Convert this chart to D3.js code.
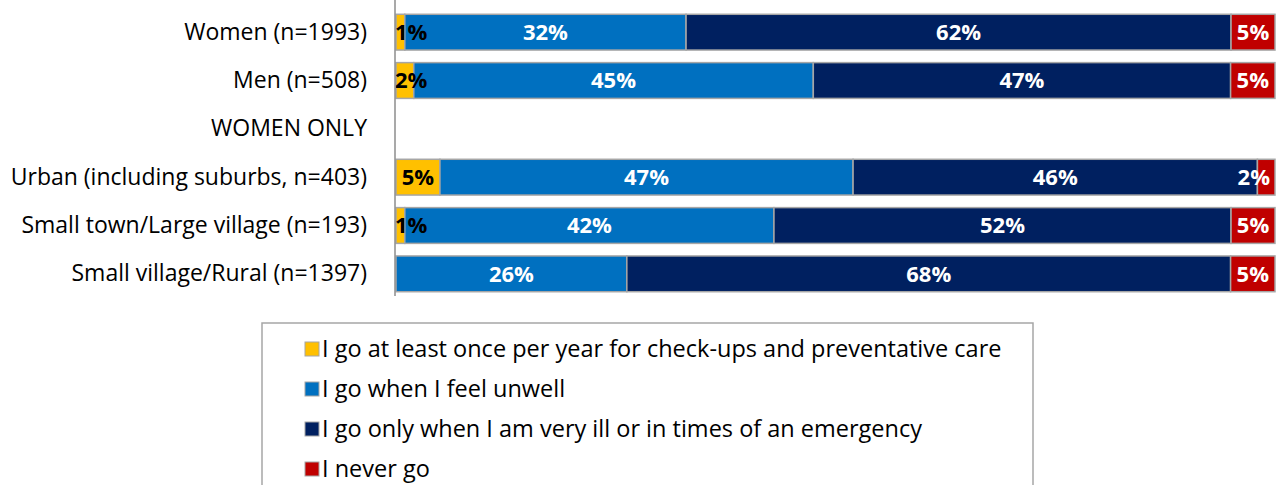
<!DOCTYPE html>
<html>
<head>
<meta charset="utf-8">
<script src="https://cdn.jsdelivr.net/npm/d3@7"></script>
<style>
  body { margin: 0; background: #fff; }
  svg { display: block; }
</style>
</head>
<body>
<script>
const categories = [
  'Women (n=1993)',
  'Men (n=508)',
  'WOMEN ONLY',
  'Urban (including suburbs, n=403)',
  'Small town/Large village (n=193)',
  'Small village/Rural (n=1397)',
]
const yearly = [1, 2, 0, 5, 1, 0]
const unwell = [32, 45, 0, 47, 42, 26]
const emergency = [62, 47, 0, 46, 52, 68]
const never = [5, 5, 0, 2, 5, 5]

const seriesNames = [
  'I go at least once per year for check-ups and preventative care',
  'I go when I feel unwell',
  'I go only when I am very ill or in times of an emergency',
  'I never go',
]
const seriesKeys = ['yearly', 'unwell', 'emergency', 'never']
const COLORS = ['#ffc000', '#0070c0', '#002060', '#c00000']
const TEXT_COLORS = ['#000', '#fff', '#fff', '#fff']

const SVG_WIDTH = 1279
const SVG_HEIGHT = 485
const MARGIN = { LEFT: 396, RIGHT: 4, TOP: 8, BOTTOM: 190 }
const FONT = '"Open Sans", "Noto Sans", sans-serif'

const rows = categories.map((c, i) => ({
  category: c,
  yearly: yearly[i],
  unwell: unwell[i],
  emergency: emergency[i],
  never: never[i],
}))

const stacked = d3.stack()
  .keys(seriesKeys)
  .offset((series, order) => {
    // 100% stacked, but skip the empty WOMEN ONLY header row
    const n = series[0].length
    for (let j = 0; j < n; j++) {
      let sum = 0
      for (const s of series) sum += s[j][1] - s[j][0]
      if (sum === 0) continue
      for (const s of series) { s[j][0] /= sum; s[j][1] /= sum }
    }
    d3.stackOffsetNone(series, order)
  })(rows)

const svg = d3.select('body')
  .append('svg')
  .attr('width', SVG_WIDTH)
  .attr('height', SVG_HEIGHT)

const scaleX = d3.scaleLinear()
  .domain([0, 1])
  .range([MARGIN.LEFT, SVG_WIDTH - MARGIN.RIGHT])

const scaleY = d3.scaleBand()
  .domain(categories)
  .range([MARGIN.TOP, 298])
  .paddingInner(0.26)
  .paddingOuter(0.13)

// bars
svg.append('g')
  .selectAll('g')
  .data(stacked)
  .enter()
  .append('g')
    .attr('fill', (d, i) => COLORS[i])
  .selectAll('rect')
  .data(d => d.filter(p => p[1] > p[0]))
  .enter()
  .append('rect')
    .attr('x', d => scaleX(d[0]))
    .attr('y', d => scaleY(d.data.category))
    .attr('width', d => scaleX(d[1]) - scaleX(d[0]))
    .attr('height', scaleY.bandwidth())
    .attr('stroke', '#a6a6a6')
    .attr('stroke-width', 1.5)

// value labels on top of all bars, centred in the segment but kept inside the plot area
const [PLOT_L, PLOT_R] = scaleX.range()
const labels = svg.append('g')
stacked.forEach((layer, i) => {
  labels.append('g')
    .selectAll('text')
    .data(layer.filter(p => p[1] > p[0]))
    .enter()
    .append('text')
      .attr('y', d => scaleY(d.data.category) + scaleY.bandwidth() / 2)
      .attr('dy', '0.36em')
      .attr('text-anchor', 'middle')
      .attr('fill', TEXT_COLORS[i])
      .attr('font-family', FONT)
      .attr('font-weight', 'bold')
      .attr('font-size', '22px')
      .text(d => `${d.data[layer.key]}%`)
      .attr('x', function(d) {
        const half = this.getComputedTextLength() / 2
        const cx = (scaleX(d[0]) + scaleX(d[1])) / 2
        return Math.max(PLOT_L - 1 + half, Math.min(PLOT_R - 5 - half, cx))
      })
})

// y axis
const yAxis = d3.axisLeft(scaleY).tickSize(0).tickPadding(28)
svg.append('g')
    .attr('transform', `translate(${MARGIN.LEFT - 1}, 0)`)
  .call(yAxis)
  .call(g => g.select('.domain').remove())
  .selectAll('text')
    .attr('font-family', FONT)
    .attr('font-size', '23px')
    .attr('fill', '#000')

svg.append('line')
  .attr('x1', MARGIN.LEFT - 1).attr('x2', MARGIN.LEFT - 1)
  .attr('y1', 0).attr('y2', 296)
  .attr('stroke', '#8c8c8c')
  .attr('stroke-width', 1.5)

// legend
const legend = svg.append('g')
svg.append('rect')
  .attr('x', 262).attr('y', 323)
  .attr('width', 771).attr('height', 180)
  .attr('fill', 'none')
  .attr('stroke', '#a6a6a6')
  .attr('stroke-width', 1.5)

const legendItems = legend.selectAll('g')
  .data(seriesNames)
  .enter()
  .append('g')
    .attr('transform', (d, i) => `translate(305, ${349 + i * 40})`)

legendItems.append('rect')
  .attr('x', 0).attr('y', -7)
  .attr('width', 14).attr('height', 14)
  .attr('fill', (d, i) => COLORS[i])
  .attr('stroke', '#a6a6a6')
  .attr('stroke-width', 1)

legendItems.append('text')
  .attr('x', 17)
  .attr('dy', '0.36em')
  .attr('font-family', FONT)
  .attr('font-size', '23.5px')
  .attr('fill', '#000')
  .text(d => d)
</script>
</body>
</html>
